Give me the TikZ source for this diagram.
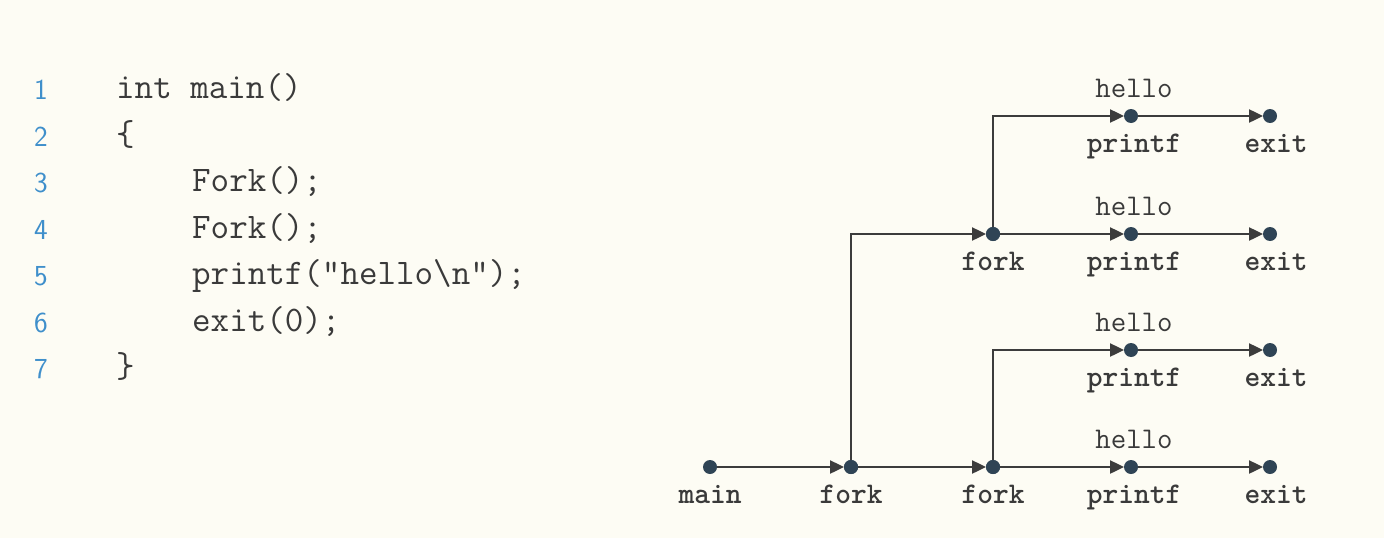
\documentclass[tikz,border=0pt]{standalone}
\usetikzlibrary{arrows.meta}
\definecolor{bg}{HTML}{FDFCF4}
\definecolor{numc}{HTML}{3F8FCB}
\definecolor{txtc}{HTML}{3A3A3A}
\definecolor{linec}{HTML}{3C3C3C}
\definecolor{dotc}{HTML}{2F4455}
\begin{document}
\begin{tikzpicture}[x=1pt,y=-1pt,
  num/.style={anchor=base,inner sep=0,font=\sffamily\fontsize{29}{32}\selectfont,text=numc},
  code/.style={anchor=base west,inner sep=0,font=\ttfamily\fontsize{36}{40}\selectfont,text=txtc},
  lbl/.style={anchor=base,inner sep=0,font=\ttfamily\bfseries\fontsize{30}{34}\selectfont,text=txtc},
  hlbl/.style={anchor=base,inner sep=0,font=\ttfamily\fontsize{30}{34}\selectfont,text=txtc},
  dot/.style={circle,fill=dotc,minimum size=14pt,inner sep=0,outer sep=0},
  arr/.style={draw=linec,line width=2.4pt,-{Triangle[length=14pt,width=13pt]}}]
\useasboundingbox (0,0) rectangle (1384,538);
\fill[bg] (0,0) rectangle (1384,538);
% code listing
\foreach \i/\y in {1/99,2/146,3/192,4/239,5/285,6/332,7/378}
  \node[num] (n\i) at (41,\y) {\i};
\node[code] (c1) at (116,98) {int main()};
\node[code] (c2) at (116,145) {\{};
\node[code] (c3) at (192,191) {Fork();};
\node[code] (c4) at (192,238) {Fork();};
\node[code] (c5) at (192,284) {printf(\symbol{34}hello\textbackslash n\symbol{34});};
\node[code] (c6) at (192,331) {exit(0);};
\node[code] (c7) at (116,377) {\}};
% process graph dots
\node[dot] (main) at (710,467) {};
\node[dot] (f1) at (851,467) {};
\node[dot] (f2b) at (993,467) {};
\node[dot] (f2a) at (993,234) {};
\node[dot] (p1) at (1131,116) {};
\node[dot] (p2) at (1131,234) {};
\node[dot] (p3) at (1131,350) {};
\node[dot] (p4) at (1131,467) {};
\node[dot] (e1) at (1270,116) {};
\node[dot] (e2) at (1270,234) {};
\node[dot] (e3) at (1270,350) {};
\node[dot] (e4) at (1270,467) {};
% connectors
\draw[arr] (main) -- (f1);
\draw[arr] (f1) -- (f2b);
\draw[arr] (f2b) -- (p4);
\draw[arr] (p4) -- (e4);
\draw[arr] (f1.center) |- (f2a);
\draw[arr] (f2a) -- (p2);
\draw[arr] (p2) -- (e2);
\draw[arr] (f2a.center) |- (p1);
\draw[arr] (p1) -- (e1);
\draw[arr] (f2b.center) |- (p3);
\draw[arr] (p3) -- (e3);
\node[dot] at (f1) {};
\node[dot] at (f2a) {};
\node[dot] at (f2b) {};
% labels
\foreach \r/\y in {1/116,2/234,3/350,4/467}{
  \node[hlbl] (h\r) at (1134,\y-19) {hello};
  \node[lbl] (lp\r) at (1134,\y+36) {printf};
  \node[lbl] (le\r) at (1276,\y+36) {exit};
}
\node[lbl] (lmain) at (710,503) {main};
\node[lbl] (lf1) at (851,503) {fork};
\node[lbl] (lf2b) at (993,503) {fork};
\node[lbl] (lf2a) at (993,270) {fork};
\end{tikzpicture}
\end{document}
